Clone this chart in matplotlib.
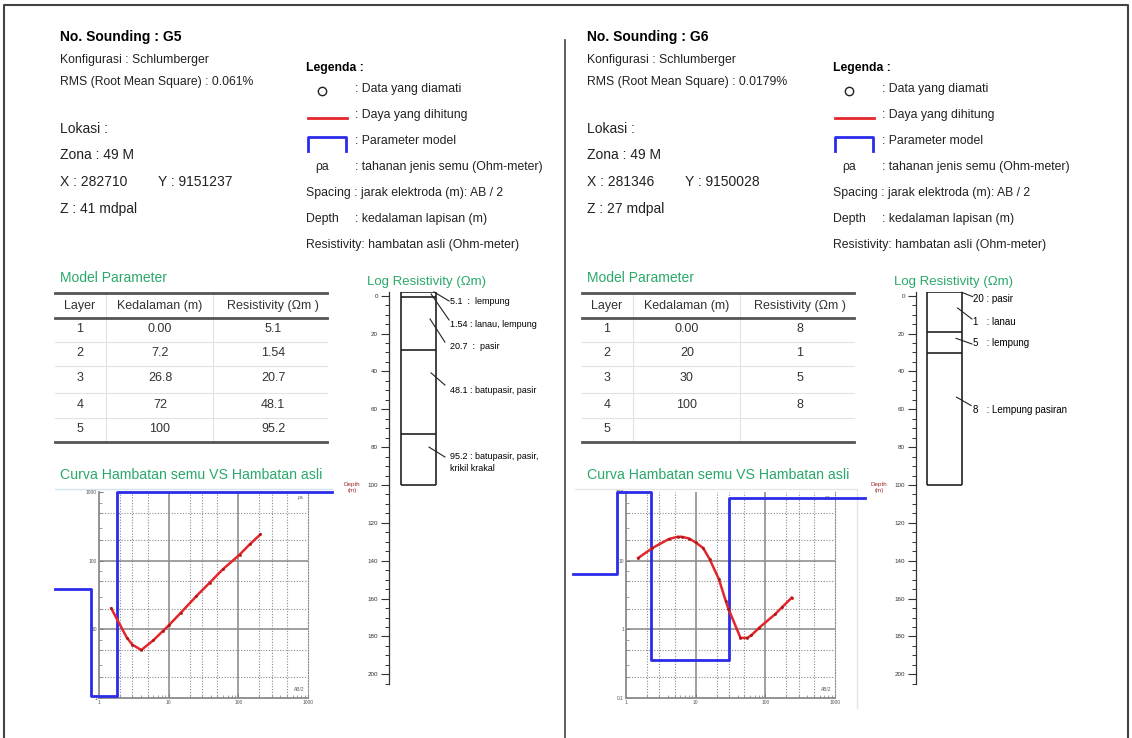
import matplotlib
matplotlib.use("Agg")
import matplotlib.pyplot as plt
from matplotlib.ticker import FixedLocator, FuncFormatter, LogLocator, MultipleLocator, NullFormatter

plt.rcParams["font.family"] = ["Liberation Sans", "DejaVu Sans"]

W, H = 1132, 738
GREEN = "#2aa86a"
RED = "#e3262b"
BLUE = "#2b2bea"
DARK = "#222222"

# --- data for both soundings (index 0 = G5, index 1 = G6) ---
NAMES = ["G5", "G6"]
RMS = ["0.061%", "0.0179%"]
ZONA = ["49 M", "49 M"]
COORD_X = ["282710", "281346"]
COORD_Y = ["9151237", "9150028"]
COORD_Z = ["41", "27"]

TABLE_COLS = ["Layer", "Kedalaman (m)", "Resistivity (\u03a9m )"]
LAYERS = ["1", "2", "3", "4", "5"]
DEPTHS = [["0.00", "7.2", "26.8", "72", "100"],
          ["0.00", "20", "30", "100", ""]]
RESIST = [["5.1", "1.54", "20.7", "48.1", "95.2"],
          ["8", "1", "5", "8", ""]]

# layer boundaries as drawn in the log column (m)
LOG_BOUNDS = [[-1.8, 0.9, 28.5, 73.3, 100],
              [-1.8, 19.3, 30.4, 100]]
LOG_TEXT = [["5.1  :  lempung", "1.54 : lanau, lempung", "20.7  :  pasir",
             "48.1 : batupasir, pasir", "95.2 : batupasir, pasir,\nkrikil krakal"],
            ["20 : pasir", "1   : lanau", "5   : lempung", "8   : Lempung pasiran"]]

# apparent resistivity vs AB/2
AB2 = [[1.5, 2.5, 3.0, 4.05, 6.0, 8.3, 10, 15, 25, 39, 60, 104, 145, 207],
       [1.49, 2.4, 4.1, 5.5, 6.3, 8.1, 10, 12.8, 15.8, 21.5, 27, 29.5, 44, 55, 63, 82, 138, 174, 240]]
RHO_A = [[20.2, 7.6, 6.0, 5.0, 6.9, 9.5, 11.4, 17.5, 30.5, 48, 75, 122, 172, 241],
         [10.9, 15.3, 20.6, 22.3, 22.3, 21, 18.4, 15.3, 10.6, 5.4, 2.6, 2.0, 0.75, 0.75, 0.82, 1.06, 1.66, 2.1, 2.9]]
MODEL_X = [[0.23, 0.77, 0.77, 1.81, 1.81, 2240],
           [0.175, 0.75, 0.75, 2.27, 2.27, 30.5, 30.5, 2680]]
MODEL_Y = [[39, 39, 1.07, 1.07, 1000, 1000],
           [6.4, 6.4, 100, 100, 0.36, 0.36, 81, 81]]
YLIMS = [(1, 1000), (0.1, 100)]

# --- layout (pixels) ---
DX = [0, 527]
LEADERS = [[(0.263, -2, 0.351, 2.8), (0.246, -0.9, 0.351, 12.8), (0.240, 12.3, 0.327, 24.5),
            (0.246, 40.8, 0.327, 47.2), (0.234, 80, 0.327, 85.2)],
           [(0.267, -1.8, 0.331, 0.5), (0.243, 6.5, 0.327, 12.3), (0.234, 22.5, 0.327, 25.5),
            (0.237, 53.6, 0.322, 58)]]
LOG_TEXT_Y = [[3.3, 15, 27, 50.3, 88.1], [1.9, 13.8, 25.2, 60.2]]
COLUMN_X = [(0.070, 0.275), (0.064, 0.267)]
ROW_Y = [329, 353, 377.7, 405, 429]
ROW_SEP = [341.7, 366, 393.3, 417.7]


def add_ax(left, top, right, bottom):
    return fig.add_axes([left / W, 1 - bottom / H, (right - left) / W, (bottom - top) / H])


fig = plt.figure(figsize=(W / 100, H / 100), dpi=100)
pg = fig.add_axes([0, 0, 1, 1])
pg.set_xlim(0, W)
pg.set_ylim(H, 0)
pg.axis("off")

# page frame and divider
pg.plot([4, 4, 1128, 1128], [738, 5, 5, 738], color="#444444", lw=1.5)
pg.plot([565, 565], [40, 738], color="#444444", lw=1.2)

for i in range(2):
    d = DX[i]
    # header block
    pg.text(60 + d, 37, f"No. Sounding : {NAMES[i]}", fontsize=10, fontweight="bold", va="center")
    pg.text(60 + d, 60, "Konfigurasi : Schlumberger", fontsize=8.8, va="center", color="#222")
    pg.text(60 + d, 82, f"RMS (Root Mean Square) : {RMS[i]}", fontsize=8.8, va="center", color="#222")
    pg.text(60 + d, 129, "Lokasi :", fontsize=10, va="center", color="#222")
    pg.text(60 + d, 155, f"Zona : {ZONA[i]}", fontsize=10, va="center", color="#222")
    pg.text(60 + d, 182, f"X : {COORD_X[i]}", fontsize=10, va="center", color="#222")
    pg.text(158 + d, 182, f"Y : {COORD_Y[i]}", fontsize=10, va="center", color="#222")
    pg.text(60 + d, 209, f"Z : {COORD_Z[i]} mdpal", fontsize=10, va="center", color="#222")

    # legend block
    pg.text(306 + d, 68, "Legenda :", fontsize=8.8, fontweight="bold", va="center")
    pg.plot([322 + d], [91], marker="o", ms=6, mfc="white", mec=DARK, mew=1.0)
    pg.text(355 + d, 89, ": Data yang diamati", fontsize=8.8, va="center", color="#222")
    pg.plot([308 + d, 347 + d], [117.5, 117.5], color=RED, lw=2)
    pg.text(355 + d, 115, ": Daya yang dihitung", fontsize=8.8, va="center", color="#222")
    pg.plot([308 + d, 308 + d, 346 + d, 346 + d], [151, 137, 137, 151], color=BLUE, lw=2)
    pg.text(355 + d, 141, ": Parameter model", fontsize=8.8, va="center", color="#222")
    pg.text(322 + d, 167, "\u03c1a", fontsize=8.8, va="center", ha="center", color="#222")
    pg.text(355 + d, 167, ": tahanan jenis semu (Ohm-meter)", fontsize=8.8, va="center", color="#222")
    pg.text(306 + d, 193, "Spacing : jarak elektroda (m): AB / 2", fontsize=8.8, va="center", color="#222")
    pg.text(306 + d, 219, "Depth", fontsize=8.8, va="center", color="#222")
    pg.text(355 + d, 219, ": kedalaman lapisan (m)", fontsize=8.8, va="center", color="#222")
    pg.text(306 + d, 245, "Resistivity: hambatan asli (Ohm-meter)", fontsize=8.8, va="center", color="#222")

    # model parameter table
    pg.text(60 + d, 278, "Model Parameter", fontsize=10, color=GREEN, va="center")
    tl, tr = 55 + d, 327 + d
    col_x = [80 + d, 160 + d, 273 + d]
    for y in ROW_SEP:
        pg.plot([tl, tr], [y, y], color="#e2e2e2", lw=0.8)
    for x in (106 + d, 213 + d):
        pg.plot([x, x], [293, 442], color="#e2e2e2", lw=0.8)
    for y in (292.7, 317.7, 442.3):
        pg.plot([tl, tr], [y, y], color="#555555", lw=2)
    for cx, name in zip(col_x, TABLE_COLS):
        pg.text(cx, 305.5, name, fontsize=9, ha="center", va="center", color="#333")
    for r, ry in enumerate(ROW_Y):
        for cx, val in zip(col_x, (LAYERS[r], DEPTHS[i][r], RESIST[i][r])):
            pg.text(cx, ry, val, fontsize=9, ha="center", va="center", color="#333")

    # log resistivity column
    pg.text(367 + d, 282, "Log Resistivity (\u03a9m)", fontsize=9.5, color=GREEN, va="center")
    sx = 389 + d
    top_y = 295.7 - 2 * 1.893
    bot_y = 295.7 + 205 * 1.893
    sa = add_ax(sx, top_y, sx + 171, bot_y)
    sa.set_ylim(205, -2)
    sa.set_xlim(0, 1)
    for s in ("top", "right", "bottom"):
        sa.spines[s].set_visible(False)
    sa.spines["left"].set_color("#333")
    sa.spines["left"].set_linewidth(0.9)
    sa.set_xticks([])
    sa.yaxis.set_major_locator(MultipleLocator(20))
    sa.yaxis.set_minor_locator(MultipleLocator(5))
    sa.set_yticks(range(0, 201, 20))
    sa.tick_params(axis="y", which="major", length=6, width=0.8, labelsize=4.5, colors="#333", pad=2)
    sa.tick_params(axis="y", which="minor", length=3, width=0.7, colors="#333")
    sa.patch.set_alpha(0)
    tr_ = sa.get_yaxis_transform()
    c0, c1 = COLUMN_X[i]
    bounds = LOG_BOUNDS[i]
    sa.vlines([c0, c1], bounds[0], bounds[-1], colors=DARK, lw=1.2, transform=tr_)
    sa.hlines(bounds, c0, c1, colors=DARK, lw=1.2, transform=tr_)
    for (x0, y0, x1, y1), txt, ty in zip(LEADERS[i], LOG_TEXT[i], LOG_TEXT_Y[i]):
        sa.plot([x0, x1], [y0, y1], color=DARK, lw=0.8, transform=tr_, clip_on=False)
        sa.text(0.357 if i == 0 else 0.335, ty, txt, fontsize=6.5 if i == 0 else 7,
                va="center", transform=tr_, linespacing=1.35)
    pg.text(352 + d, 487.5, "Depth\n(m)", fontsize=4.5, color="#a0282d", ha="center", va="center",
            linespacing=1.1)

    # apparent resistivity curve
    pg.text(60 + d, 475, "Curva Hambatan semu VS Hambatan asli", fontsize=10.2, color=GREEN, va="center")
    ax = add_ax(99 + d, 492, 308 + d, 698)
    ax.set_xscale("log")
    ax.set_yscale("log")
    ax.set_xlim(1, 1000)
    ax.set_ylim(*YLIMS[i])
    y0, y1 = YLIMS[i]
    ax.patch.set_alpha(0)
    decs_x = [1, 10, 100]
    decs_y = [y0, y0 * 10, y0 * 100]
    for v in decs_x[1:]:
        ax.axvline(v, color="#8f8f8f", lw=1.2, zorder=1)
    for v in decs_y[1:]:
        ax.axhline(v, color="#8f8f8f", lw=1.2, zorder=1)
    for dec in decs_x:
        for m in (2, 3, 5):
            ax.axvline(dec * m, color="#8a8a8a", lw=0.8, ls=(0, (1, 1.5)), zorder=1)
    for dec in decs_y:
        for m in (2, 5):
            ax.axhline(dec * m, color="#8a8a8a", lw=0.8, ls=(0, (1, 1.5)), zorder=1)
    ax.spines["top"].set_visible(False)
    ax.spines["right"].set_linestyle((0, (1, 1.5)))
    ax.spines["right"].set_color("#8a8a8a")
    ax.spines["right"].set_linewidth(0.8)
    for s in ("left", "bottom"):
        ax.spines[s].set_color("#8a8a8a")
        ax.spines[s].set_linewidth(1.3)
    ax.xaxis.set_major_locator(FixedLocator([1, 10, 100, 1000]))
    ax.yaxis.set_major_locator(FixedLocator([y0, y0 * 10, y0 * 100, y1]))
    fmt = FuncFormatter(lambda v, p: f"{v:g}")
    ax.xaxis.set_major_formatter(fmt)
    ax.yaxis.set_major_formatter(fmt)
    ax.xaxis.set_minor_locator(LogLocator(base=10, subs=range(2, 10)))
    ax.yaxis.set_minor_locator(LogLocator(base=10, subs=(2, 3, 5, 7)))
    ax.xaxis.set_minor_formatter(NullFormatter())
    ax.yaxis.set_minor_formatter(NullFormatter())
    ax.tick_params(which="both", direction="in", colors="#777", labelsize=3.5, labelcolor="#555", pad=1.5)
    ax.tick_params(which="major", length=3, width=0.7)
    ax.tick_params(which="minor", length=2, width=0.5)
    ax.text(0.975, 0.985, "\u03c1a", transform=ax.transAxes, fontsize=3.5, ha="right", va="top", color="#555")
    ax.text(0.985, 0.03, "AB/2", transform=ax.transAxes, fontsize=3.5, ha="right", va="bottom", color="#555")
    ax.plot(MODEL_X[i], MODEL_Y[i], color=BLUE, lw=2, clip_on=False, zorder=3)
    ax.plot(AB2[i], RHO_A[i], color=RED, lw=1.8, marker="o", ms=1.6, mfc="#b01818", mec="#8a1010",
            mew=0.3, zorder=4)

# faint frames of the curve pictures
pg.plot([55, 332], [489, 489], color="#d2e4ec", lw=1)
pg.plot([575, 857, 857], [489, 489, 708], color="#e6e6e6", lw=1)

fig.savefig("out.png", dpi=100)
